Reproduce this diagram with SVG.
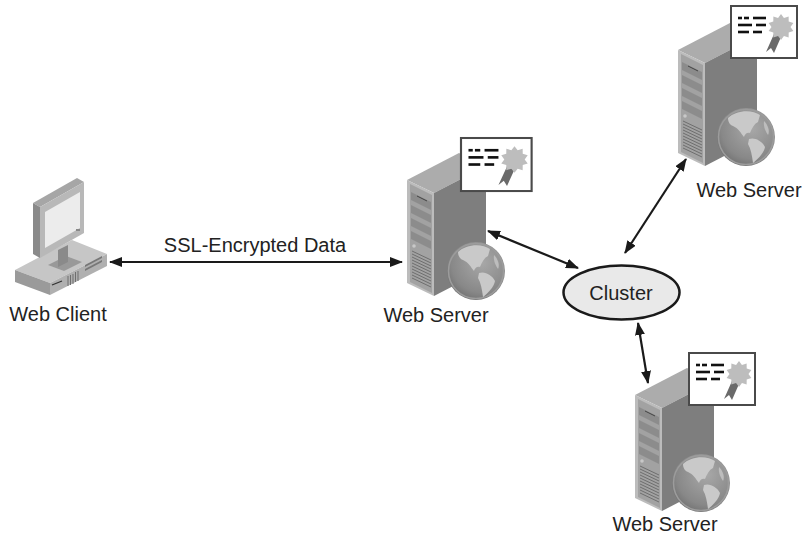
<svg xmlns="http://www.w3.org/2000/svg" width="803" height="538" viewBox="0 0 803 538">
  <style>
    .lbl { font-family: "Liberation Sans", Arial, sans-serif; font-size: 20px; fill: #222; }
    .conn { stroke: #1a1a1a; stroke-width: 2.2; fill: none; marker-start: url(#head); marker-end: url(#head); }
    .dash { stroke: #111; stroke-width: 2.6; }
    .vent { stroke: #6e6e6e; stroke-width: 1; }
  </style>
  <defs>
    <marker id="head" viewBox="0 0 13 10" refX="12" refY="5" markerWidth="13" markerHeight="10" markerUnits="userSpaceOnUse" orient="auto-start-reverse">
      <path d="M0,0 L13,5 L0,10 Z" fill="#1a1a1a"/>
    </marker>
    <radialGradient id="globeShade" cx="0.6" cy="0.35" r="0.75">
      <stop offset="0" stop-color="#a8a8a8"/>
      <stop offset="0.7" stop-color="#888"/>
      <stop offset="1" stop-color="#6a6a6a"/>
    </radialGradient>

    <!-- tower server, origin at the left corner of the top face -->
    <g id="tower">
      <polygon points="0,0 52,-27 79,-14 27,13" fill="#acacac"/>
      <polygon points="27,13 79,-14 79,89 27,116" fill="#7e7e7e"/>
      <polygon points="0,0 27,13 27,116 0,103" fill="#bcbcbc"/>
      <polygon points="3,4 25,15 25,113 3,102" fill="#a2a2a2"/>
      <!-- drive bays -->
      <polygon points="4,12 24,22 24,30 4,20" fill="#8c8c8c"/>
      <line x1="10" y1="16" x2="20" y2="21" stroke="#444" stroke-width="1"/>
      <polygon points="4,25 24,35 24,43 4,33" fill="#8c8c8c"/>
      <polygon points="4,38 24,48 24,56 4,46" fill="#8c8c8c"/>
      <polygon points="4,51 24,61 24,69 4,59" fill="#8c8c8c"/>
      <circle cx="7" cy="66" r="1.8" fill="#c8c8c8"/>
      <!-- vents -->
      <g class="vent">
        <line x1="5" y1="71" x2="24" y2="80"/>
        <line x1="5" y1="74" x2="24" y2="83"/>
        <line x1="5" y1="77" x2="24" y2="86"/>
        <line x1="5" y1="80" x2="24" y2="89"/>
        <line x1="5" y1="83" x2="24" y2="92"/>
        <line x1="5" y1="86" x2="24" y2="95"/>
        <line x1="5" y1="89" x2="24" y2="98"/>
        <line x1="5" y1="92" x2="24" y2="101"/>
        <line x1="5" y1="95" x2="24" y2="104"/>
        <line x1="5" y1="98" x2="24" y2="107"/>
      </g>
    </g>

    <!-- globe, centred on its origin -->
    <g id="globe">
      <circle r="29" fill="url(#globeShade)"/>
      <circle r="27.5" fill="none" stroke="#9c9c9c" stroke-width="1.5"/>
      <path d="M-18,-19 C-10,-27 6,-28 14,-22 L12,-15 C8,-13 6,-9 4,-4 C1,-5 -1,-3 -2,0 C-5,-4 -8,-9 -13,-11 C-16,-12 -18,-15 -18,-19 Z" fill="#c9c9c9"/>
      <path d="M3,2 C9,0 16,4 19,10 C18,16 12,22 7,26 C6,19 5,12 2,7 Z" fill="#c9c9c9"/>
      <path d="M18,-16 C22,-12 24,-6 22,-2 C20,-5 17,-10 18,-16 Z" fill="#bdbdbd"/>
    </g>

    <!-- certificate, origin at top-left corner -->
    <g id="cert">
      <rect x="0" y="0" width="66" height="52" fill="#fff" stroke="#4a4a4a" stroke-width="2"/>
      <g class="dash">
        <line x1="7" y1="12" x2="11" y2="12"/>
        <line x1="13" y1="12" x2="18" y2="12"/>
        <line x1="22" y1="12" x2="35" y2="12"/>
        <line x1="7" y1="19" x2="21" y2="19"/>
        <line x1="25" y1="19" x2="35" y2="19"/>
        <line x1="7" y1="26" x2="18" y2="26"/>
        <line x1="22" y1="26" x2="31" y2="26"/>
      </g>
      <path d="M43,28 L35,46 L40,42 L43,47 L50,31 Z" fill="#6a6a6a"/>
      <polygon fill="#bdbdbd" points="50,8 52.94,11.97 57.64,10.48 57.69,15.41 62.36,16.98 59.5,21 62.36,25.02 57.69,26.59 57.64,31.52 52.94,30.03 50,34 47.06,30.03 42.36,31.52 42.31,26.59 37.64,25.02 40.5,21 37.64,16.98 42.31,15.41 42.36,10.48 47.06,11.97"/>
    </g>
  </defs>

  <!-- connectors -->
  <g id="connectors">
    <line class="conn" x1="110" y1="262" x2="402" y2="262"/>
    <line class="conn" x1="488" y1="231" x2="578" y2="268"/>
    <line class="conn" x1="625" y1="253" x2="686" y2="159"/>
    <line class="conn" x1="638" y1="323" x2="648" y2="383"/>
  </g>
  <text class="lbl" x="255" y="252" text-anchor="middle">SSL-Encrypted Data</text>

  <!-- web client -->
  <g id="web-client">
    <polygon points="15,270 72,240 107,254 50,283" fill="#c6c6c6"/>
    <polygon points="15,270 50,283 50,295 15,282" fill="#9a9a9a"/>
    <polygon points="50,283 107,254 107,266 50,295" fill="#b0b0b0"/>
    <line x1="52" y1="285" x2="62" y2="281" stroke="#333" stroke-width="1.2"/>
    <g class="vent" stroke="#555">
      <line x1="68" y1="276" x2="68" y2="286"/>
      <line x1="70.5" y1="275" x2="70.5" y2="285"/>
      <line x1="73" y1="274" x2="73" y2="284"/>
      <line x1="75.5" y1="272" x2="75.5" y2="282"/>
      <line x1="78" y1="271" x2="78" y2="281"/>
    </g>
    <polygon points="85,265 102,256 102,258 85,267" fill="#777"/>
    <polygon points="85,269 102,260 102,262 85,271" fill="#777"/>
    <!-- stand -->
    <polygon points="48,265 66,256 82,262 64,271" fill="#999"/>
    <polygon points="58,250 68,245 68,262 58,267" fill="#8a8a8a"/>
    <!-- monitor -->
    <polygon points="33,203 77,178 84,182 40,207" fill="#a6a6a6"/>
    <polygon points="33,203 40,207 40,258 33,254" fill="#8a8a8a"/>
    <polygon points="40,207 84,182 84,233 40,258" fill="#b8b8b8"/>
    <polygon points="45,212 80,192 80,228 45,248" fill="#ececec"/>
    <rect x="76" y="229" width="4" height="2" fill="#888"/>
  </g>
  <text class="lbl" x="58" y="321" text-anchor="middle">Web Client</text>

  <!-- central web server -->
  <g id="server-center">
    <use href="#tower" x="407" y="180"/>
    <use href="#globe" x="476" y="271"/>
    <use href="#cert" transform="translate(461,138) scale(1.07,1.02)"/>
  </g>
  <text class="lbl" x="436" y="322" text-anchor="middle">Web Server</text>

  <!-- cluster -->
  <g id="cluster">
    <ellipse cx="621.5" cy="292.5" rx="58" ry="27" fill="#e9e9e9" stroke="#1a1a1a" stroke-width="2.5"/>
    <text class="lbl" x="621" y="300" text-anchor="middle">Cluster</text>
  </g>

  <!-- upper web server -->
  <g id="server-top">
    <use href="#tower" x="678" y="50"/>
    <use href="#globe" x="746" y="137"/>
    <use href="#cert" x="731" y="6"/>
  </g>
  <text class="lbl" x="749" y="197" text-anchor="middle">Web Server</text>

  <!-- lower web server -->
  <g id="server-bottom">
    <use href="#tower" x="635" y="395"/>
    <use href="#globe" x="701" y="483"/>
    <use href="#cert" x="689" y="353"/>
  </g>
  <text class="lbl" x="665" y="531" text-anchor="middle">Web Server</text>
</svg>
